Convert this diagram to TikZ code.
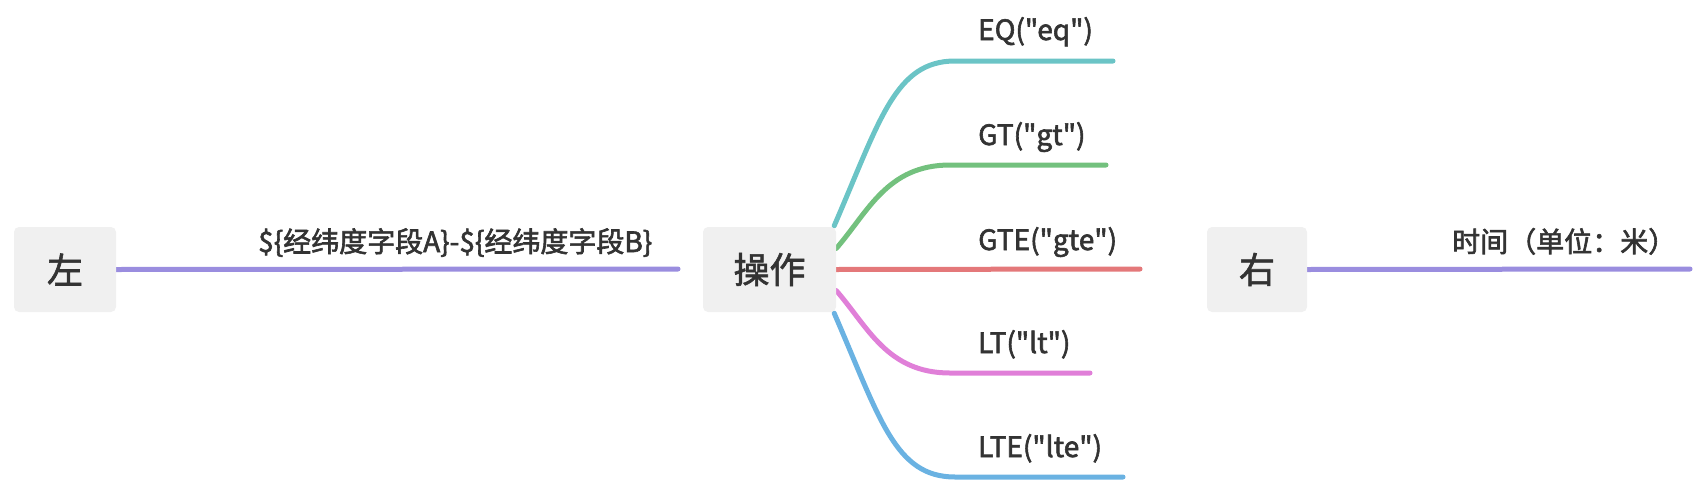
\documentclass[tikz,border=0pt]{standalone}
\usepackage{fontspec}
\setmainfont{Noto Sans CJK SC}[Ligatures=TeXOff]
\usetikzlibrary{calc}
\pgfdeclarelayer{bg}
\pgfsetlayers{bg,main}
\newcommand{\medtext}[1]{\special{pdf:literal direct 2 Tr 0.6 w}#1\special{pdf:literal direct 0 Tr}}
\definecolor{txt}{HTML}{333333}
\definecolor{boxfill}{HTML}{F0F0F0}
\definecolor{cpurple}{HTML}{9A8DDF}
\definecolor{cteal}{HTML}{6BC4C6}
\definecolor{cgreen}{HTML}{73C17E}
\definecolor{cred}{HTML}{E4787A}
\definecolor{cpink}{HTML}{E07FD8}
\definecolor{cblue}{HTML}{6AB2E2}
\tikzset{
  topicbox/.style={fill=boxfill, rounded corners=5pt, inner sep=0pt, minimum height=85pt,
    text=txt, font=\fontsize{36}{40}\selectfont},
  branchlabel/.style={anchor=base west, inner sep=0pt, text=txt, font=\fontsize{28}{32}\selectfont},
  branch/.style={line width=5pt, line cap=round},
}
\begin{document}
\begin{tikzpicture}[x=1pt,y=-1pt]
\useasboundingbox (0,0) rectangle (1702,482);
% boxes
\node[topicbox, minimum width=102pt] (left) at (65,269.5) {\medtext{左}};
\node[topicbox, minimum width=133pt] (op) at (769.5,269.5) {\medtext{操作}};
\node[topicbox, minimum width=100pt] (right) at (1257,269.5) {\medtext{右}};
% end points
\coordinate (lend) at (678,269);
\coordinate (rend) at (1690,269);
\coordinate (eqend) at (1113,61);
\coordinate (gtend) at (1106,165);
\coordinate (gteend) at (1140,269);
\coordinate (ltend) at (1090,373);
\coordinate (lteend) at (1123,477);
% labels
\node[branchlabel] (llab) at (258,252) {\medtext{\$\{经纬度字段A\}-\$\{经纬度字段B\}}};
\node[branchlabel] (rlab) at (1452,252) {\medtext{时间（单位：米）}};
\node[branchlabel] (eqlab) at (978,40) {\medtext{EQ("eq")}};
\node[branchlabel] (gtlab) at (978,145) {\medtext{GT("gt")}};
\node[branchlabel] (gtelab) at (978,250) {\medtext{GTE("gte")}};
\node[branchlabel] (ltlab) at (978,353) {\medtext{LT("lt")}};
\node[branchlabel] (ltelab) at (978,457) {\medtext{LTE("lte")}};
\begin{pgfonlayer}{bg}
\draw[branch, cpurple] (left.east) -- (lend);
\draw[branch, cpurple] (right.east) -- (rend);
\draw[branch, cteal] ([xshift=-2pt,yshift=1pt]op.north east) .. controls (880,120) and (895,61) .. (955,61) -- (eqend);
\draw[branch, cgreen] ([yshift=21pt]op.east) .. controls (868,212) and (887,165) .. (950,165) -- (gtend);
\draw[branch, cred] (op.east) -- (gteend);
\draw[branch, cpink] ([yshift=-21pt]op.east) .. controls (868,327) and (887,373) .. (950,373) -- (ltend);
\draw[branch, cblue] ([xshift=-2pt,yshift=-1pt]op.south east) .. controls (880,419) and (895,477) .. (955,477) -- (lteend);
\end{pgfonlayer}
\end{tikzpicture}
\end{document}
